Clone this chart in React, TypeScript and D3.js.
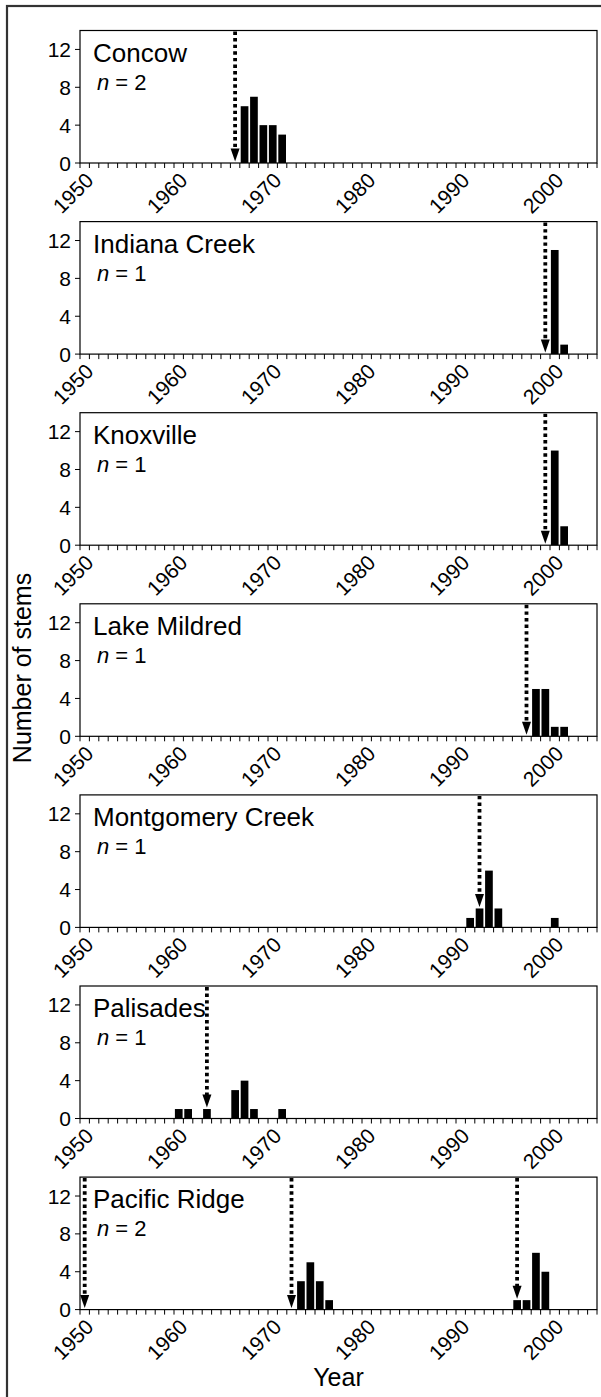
import React from "react";
import * as d3 from "d3";

const sites = ["Concow", "Indiana Creek", "Knoxville", "Lake Mildred", "Montgomery Creek", "Palisades", "Pacific Ridge"];
const nTrees = [2, 1, 1, 1, 1, 1, 2];
const fireYears = [[1966], [1999], [1999], [1997], [1992], [1963], [1950, 1972, 1996]];
const stemYears = [
  [1967, 1968, 1969, 1970, 1971],
  [2000, 2001],
  [2000, 2001],
  [1998, 1999, 2000, 2001],
  [1991, 1992, 1993, 1994, 2000],
  [1960, 1961, 1963, 1966, 1967, 1968, 1971],
  [1973, 1974, 1975, 1976, 1996, 1997, 1998, 1999],
];
const stemCounts = [
  [6, 7, 4, 4, 3],
  [11, 1],
  [10, 2],
  [5, 5, 1, 1],
  [1, 2, 6, 2, 1],
  [1, 1, 1, 3, 4, 1, 1],
  [3, 5, 3, 1, 1, 1, 6, 4],
];
const yTicks = [0, 4, 8, 12];
const yearLabels = [1950, 1960, 1970, 1980, 1990, 2000];

const W = 601;
const H = 1397;
const font = "'Liberation Sans', Arial, sans-serif";
const left = 80;
const right = 597;
const firstTop = 30.5;
const gap = 191.1;
const panelH = 132.5;

const x = d3.scaleLinear().domain([1950, 2005]).range([left, right]);
const allYears = d3.range(1950, 2006);

function Panel({ i }: { i: number }) {
  const top = firstTop + i * gap;
  const y = d3.scaleLinear().domain([0, 14]).range([top + panelH, top]);
  const base = y(0);
  const step = x(1951) - x(1950);
  const countAt = (yr: number) => {
    const k = stemYears[i].indexOf(yr);
    return k < 0 ? 0 : stemCounts[i][k];
  };
  return (
    <g>
      {stemYears[i].map((yr, k) => (
        <rect key={yr} x={x(yr) + 0.9} y={y(stemCounts[i][k])} width={step - 1.7}
          height={base - y(stemCounts[i][k])} fill="#000" />
      ))}
      {fireYears[i].map((yr) => {
        const cx = x(yr) + step / 2;
        const tip = y(countAt(yr)) - 1.5;
        return (
          <g key={yr}>
            <line x1={cx} x2={cx} y1={top + 1} y2={tip - 12} stroke="#000" strokeWidth={3.8}
              strokeDasharray="3.4 3.2" />
            <path d={`M${cx - 4.5},${tip - 13}L${cx + 4.5},${tip - 13}L${cx},${tip}Z`} fill="#000" />
          </g>
        );
      })}
      <rect x={left} y={top} width={right - left} height={base - top} fill="none" stroke="#000" strokeWidth={1.2} />
      {yTicks.map((t) => (
        <g key={t}>
          <line x1={left - 5} x2={left} y1={y(t)} y2={y(t)} stroke="#000" strokeWidth={1} />
          <text x={left - 9} y={y(t)} dy="0.36em" textAnchor="end" fontSize={21} fontFamily={font}>{t}</text>
        </g>
      ))}
      {allYears.map((yr) => (
        <line key={yr} x1={x(yr)} x2={x(yr)} y1={base} y2={base + 5} stroke="#000" strokeWidth={1} />
      ))}
      {yearLabels.map((yr) => (
        <text key={yr} transform={`translate(${x(yr) + 4},${base + 8}) rotate(-45)`} textAnchor="end"
          dy="0.72em" fontSize={21} fontFamily={font}>{yr}</text>
      ))}
      <text x={left + 13} y={top + 31} fontSize={26} fontFamily={font}>{sites[i]}</text>
      <text x={left + 17} y={top + 59} fontSize={22} fontFamily={font}>
        <tspan fontStyle="italic">n</tspan> = {nTrees[i]}
      </text>
    </g>
  );
}

export default function App() {
  return (
    <div style={{ position: "absolute", left: 0, top: 0 }}>
      <svg width={W} height={H} style={{ display: "block", background: "#fff" }}>
        <rect x={7} y={6} width={640} height={1420} fill="none" stroke="#333" strokeWidth={2.2} />
        {sites.map((s, i) => (
          <Panel key={s} i={i} />
        ))}
        <text transform={`translate(31,668) rotate(-90)`} textAnchor="middle" fontSize={25} fontFamily={font}>
          Number of stems
        </text>
        <text x={(left + right) / 2} y={1386} textAnchor="middle" fontSize={25} fontFamily={font}>Year</text>
      </svg>
    </div>
  );
}
